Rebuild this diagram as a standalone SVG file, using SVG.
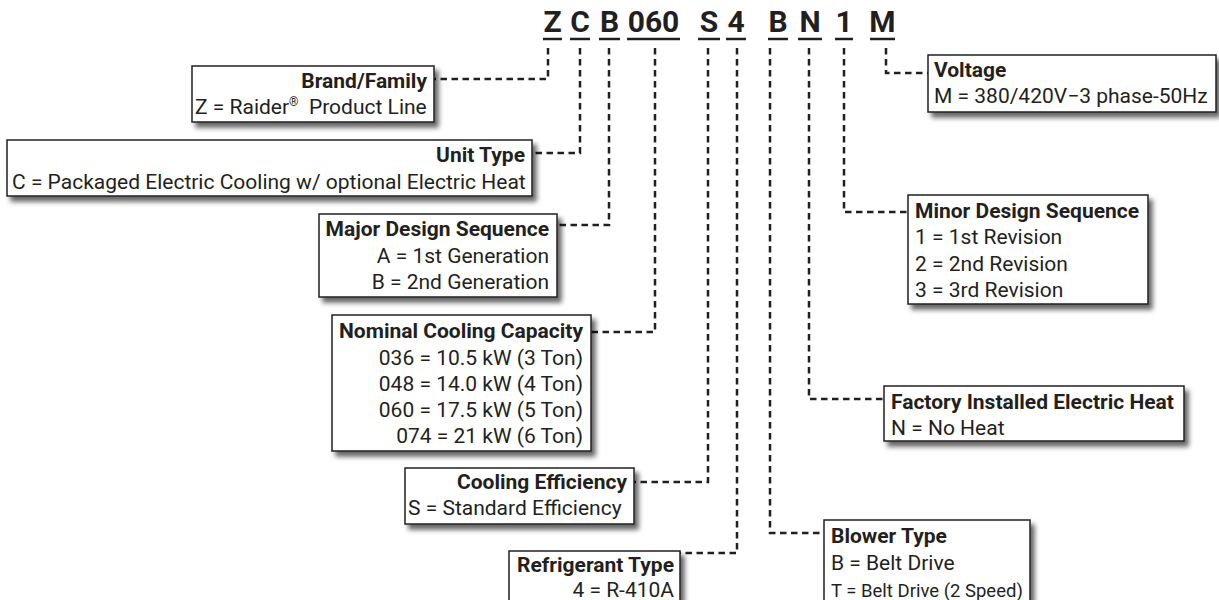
<svg xmlns="http://www.w3.org/2000/svg" width="1219" height="600" viewBox="0 0 1219 600">
<defs>
<filter id="sh" x="-10%" y="-20%" width="130%" height="160%">
<feGaussianBlur in="SourceAlpha" stdDeviation="2.5"/>
<feOffset dx="4" dy="5" result="b"/>
<feFlood flood-color="#000" flood-opacity="0.6"/>
<feComposite in2="b" operator="in"/>
<feMerge><feMergeNode/><feMergeNode in="SourceGraphic"/></feMerge>
</filter>
<style>
.box{fill:#fff;stroke:#231f20;stroke-width:1.5;filter:url(#sh)}
.t{font-family:Roboto,"Liberation Sans",sans-serif;font-size:21px;fill:#231f20}
.b{font-weight:bold}
.r{text-anchor:end}
.hd{font-family:Roboto,"Liberation Sans",sans-serif;font-size:30px;font-weight:bold;fill:#231f20;text-anchor:middle}
.ul{stroke:#231f20;stroke-width:2.5}
.c{fill:none;stroke:#231f20;stroke-width:2.5;stroke-dasharray:6.5 4.5}
.sm{font-size:18.5px}
</style>
</defs>
<rect width="1219" height="600" fill="#fff"/>
<g id="code">
<text class="hd" x="552.5" y="32">Z</text>
<text class="hd" x="580" y="32">C</text>
<text class="hd" x="609.5" y="32">B</text>
<text class="hd" x="653.5" y="32">060</text>
<text class="hd" x="709" y="32">S</text>
<text class="hd" x="736" y="32">4</text>
<text class="hd" x="778" y="32">B</text>
<text class="hd" x="810" y="32">N</text>
<text class="hd" x="844" y="32">1</text>
<text class="hd" x="882.5" y="32">M</text>
<path class="ul" d="M543,39H562M570,39H590M599,39H620M627,39H680M698,39H720M726,39H746M768,39H788M798,39H822M835,39H853M870,39H895"/>
</g>
<g id="connectors">
<path class="c" d="M548,48V79H434"/>
<path class="c" d="M580,48V153H532"/>
<path class="c" d="M609,48V225H557"/>
<path class="c" d="M655,48V332H591"/>
<path class="c" d="M708,48V482H634"/>
<path class="c" d="M737,48V553H680"/>
<path class="c" d="M770,48V533H824"/>
<path class="c" d="M809,48V399H884"/>
<path class="c" d="M844,48V212H908"/>
<path class="c" d="M886,48V73H928"/>
</g>
<g id="brand">
<rect class="box" x="192" y="66" width="242" height="56"/>
<text class="t b r" x="427" y="88">Brand/Family</text>
<text class="t" x="195" y="114">Z = Raider<tspan font-size="12" dy="-8">®</tspan><tspan dy="8">&#160; Product Line</tspan></text>
</g>
<g id="unit-type">
<rect class="box" x="7" y="140" width="525" height="56"/>
<text class="t b r" x="525" y="162">Unit Type</text>
<text class="t" x="12" y="189">C = Packaged Electric Cooling w/ optional Electric Heat</text>
</g>
<g id="major">
<rect class="box" x="319" y="214" width="238" height="83"/>
<text class="t b r" x="549" y="236">Major Design Sequence</text>
<text class="t r" x="549" y="263">A = 1st Generation</text>
<text class="t r" x="549" y="289">B = 2nd Generation</text>
</g>
<g id="nominal">
<rect class="box" x="332" y="315" width="259" height="136"/>
<text class="t b r" x="583" y="338">Nominal Cooling Capacity</text>
<text class="t r" x="583" y="365">036 = 10.5 kW (3 Ton)</text>
<text class="t r" x="583" y="391">048 = 14.0 kW (4 Ton)</text>
<text class="t r" x="583" y="417">060 = 17.5 kW (5 Ton)</text>
<text class="t r" x="583" y="443">074 = 21 kW (6 Ton)</text>
</g>
<g id="efficiency">
<rect class="box" x="405" y="468" width="229" height="56"/>
<text class="t b r" x="627" y="489">Cooling Efficiency</text>
<text class="t" x="408" y="515">S = Standard Efficiency</text>
</g>
<g id="refrigerant">
<rect class="box" x="509" y="551" width="171" height="52"/>
<text class="t b r" x="674" y="572">Refrigerant Type</text>
<text class="t r" x="674" y="597">4 = R-410A</text>
</g>
<g id="voltage">
<rect class="box" x="928" y="55" width="288" height="57"/>
<text class="t b" x="934" y="77">Voltage</text>
<text class="t" x="934" y="103">M = 380/420V−3 phase-50Hz</text>
</g>
<g id="minor">
<rect class="box" x="908" y="195" width="240" height="109"/>
<text class="t b" x="915" y="218">Minor Design Sequence</text>
<text class="t" x="915" y="244">1 = 1st Revision</text>
<text class="t" x="915" y="271">2 = 2nd Revision</text>
<text class="t" x="915" y="297">3 = 3rd Revision</text>
</g>
<g id="heat">
<rect class="box" x="884" y="386" width="300" height="55"/>
<text class="t b" x="891" y="409">Factory Installed Electric Heat</text>
<text class="t" x="891" y="435">N = No Heat</text>
</g>
<g id="blower">
<rect class="box" x="824" y="520" width="206" height="90"/>
<text class="t b" x="831" y="543">Blower Type</text>
<text class="t" x="831" y="570">B = Belt Drive</text>
<text class="t sm" x="831" y="597">T = Belt Drive (2 Speed)</text>
</g>
</svg>
